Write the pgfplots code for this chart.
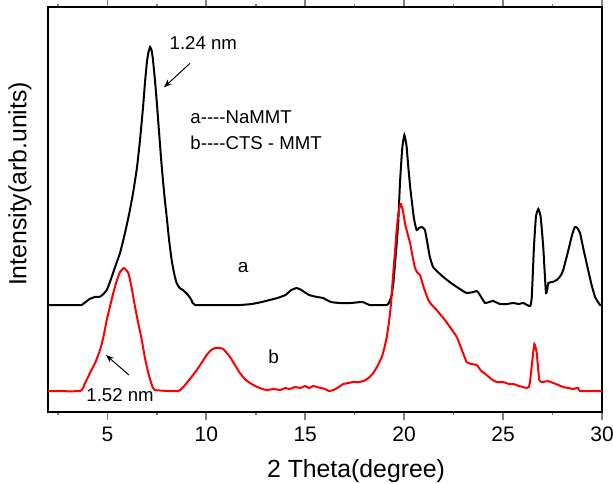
\documentclass[border=0pt]{standalone}
\usepackage{fontspec}
\setmainfont{Liberation Sans}
\usepackage{pgfplots}
\pgfplotsset{compat=1.18}
\usetikzlibrary{arrows.meta}
\begin{document}
\begin{tikzpicture}
\useasboundingbox (-24pt,-35.5pt) rectangle (282.5pt,206pt);
\begin{axis}[
  at={(0,0)}, anchor=south west,
  scale only axis, width=277pt, height=202.5pt,
  xmin=2, xmax=30, ymin=-8, ymax=397,
  xtick={5,10,...,30}, minor xtick={2.5,7.5,...,27.5},
  ytick=\empty, minor ytick={-8,12.25,...,397},
  tick align=outside,
  major tick length=3.8pt, minor tick length=1.7pt,
  x tick style={line width=0.8pt},
  y tick style={line width=0.5pt},
  axis line style={line width=1pt},
  tick label style={font=\fontsize{10.5}{12}\selectfont},
  /pgf/number format/assume math mode=true,
  xlabel={2 Theta(degree)}, ylabel={Intensity(arb.units)},
  label style={font=\fontsize{12.4}{14}\selectfont},
  xlabel style={at={(axis description cs:0.556,0)}, anchor=base, yshift=-32.7pt},
  ylabel style={at={(axis description cs:-0.0505,0.563)}, anchor=center},
  clip=false,
]
\addplot[black, line width=1pt, smooth, tension=0.3] coordinates {
(2.0,99) (3.5,99) (3.70,99) (3.9,102) (4.1,105) (4.38,107) (4.63,107.3) (4.8,110) (4.97,114)
(5.13,122) (5.39,137) (5.64,151) (5.89,171) (6.10,190) (6.30,211) (6.50,237) (6.65,264) (6.80,296) (6.90,321) (7.00,342) (7.07,351)
(7.16,357) (7.23,354) (7.29,347) (7.39,327) (7.49,304) (7.62,270) (7.75,237) (7.88,209) (8.00,187) (8.12,164) (8.25,144) (8.38,130) (8.50,121) (8.65,116) (8.82,114)
(9.08,109) (9.25,104) (9.43,99) (11.0,99) (11.7,99) (12.3,100) (12.8,102) (13.2,104) (13.6,106) (14.0,109)
(14.3,114) (14.57,116) (14.8,114) (15.2,109) (15.6,107) (15.9,106) (16.3,102) (16.76,101)
(17.3,101) (17.9,102) (18.27,99) (19.12,99) (19.25,102) (19.37,109) (19.46,122) (19.54,141) (19.62,160) (19.7,181) (19.79,221)
(19.9,255) (20.01,269) (20.12,258) (20.21,237) (20.3,218) (20.38,204) (20.5,185) (20.63,174) (20.75,176) (20.89,177) (21.05,174)
(21.2,158) (21.3,147) (21.46,137) (21.7,132) (21.98,127) (22.3,122) (22.66,117) (22.9,114) (23.16,111) (23.5,112) (23.67,113) (23.8,110) (23.92,106)
(24.09,101) (24.3,102) (24.5,103) (24.84,100) (25.2,100) (25.5,101) (25.8,100) (26.02,101) (26.36,98) (26.45,107) (26.56,157)
(26.66,187) (26.78,195) (26.9,187) (27.03,157) (27.17,111) (27.29,121) (27.5,122) (27.71,124) (27.9,128) (28.04,134)
(28.3,154) (28.5,170) (28.63,177) (28.75,176) (28.89,171) (29.05,156) (29.22,141) (29.45,121) (29.65,107) (29.9,99) (30,99)
};
\addplot[red, line width=1pt, smooth, tension=0.3] coordinates {
(2,13) (3.62,13) (3.85,20) (4.12,31) (4.4,42) (4.63,54) (4.8,67) (4.97,84) (5.15,99) (5.3,111) (5.47,123) (5.64,132) (5.84,136) (6.06,131)
(6.22,117) (6.4,97) (6.57,80) (6.74,64) (6.9,46) (7.07,31) (7.25,19) (7.41,14) (8.59,13) (9.01,21) (9.52,34) (10.02,49) (10.25,54) (10.44,56)
(10.65,56) (10.86,55) (11.2,47) (11.45,39) (11.7,31) (12.0,24) (12.38,19) (12.7,16) (13.05,14) (13.4,15) (13.73,14) (14.0,16) (14.2,15) (14.5,17) (14.74,16) (15.0,18) (15.2,16)
(15.4,18) (15.58,17) (15.8,16) (16.0,15) (16.2,13) (16.42,14) (16.7,17) (16.92,20) (17.2,21) (17.4,22) (17.7,22) (17.94,23) (18.2,26) (18.44,31) (18.65,38) (18.87,47) (19.0,56) (19.12,67)
(19.22,80) (19.32,97) (19.4,118) (19.49,141) (19.56,158) (19.62,174) (19.7,189) (19.79,199) (19.84,200) (19.94,193) (20.04,181) (20.15,172) (20.3,161) (20.42,148) (20.55,136)
(20.68,131) (20.8,129) (21.0,116) (21.22,104) (21.4,99) (21.64,94) (21.85,89) (22.06,84) (22.35,76) (22.66,67) (22.9,55) (23.16,42) (23.4,40) (23.67,39) (23.9,33) (24.17,29)
(24.4,25) (24.68,22) (25.0,22) (25.3,20) (25.52,20) (25.8,18) (26.0,17) (26.19,16) (26.3,17) (26.36,22) (26.48,44) (26.58,60) (26.7,51) (26.83,24)
(27.03,22) (27.25,23) (27.54,21) (27.8,19) (28.04,17) (28.3,16) (28.55,15) (28.7,16) (28.8,16) (28.89,13) (30,13)
};
\node[inner sep=0pt, font=\fontsize{9.3}{11}\selectfont] at (axis cs:9.85,361) {1.24 nm};
\draw[-{Stealth[length=4pt,width=3pt]}, line width=0.5pt] (axis cs:9.18,340.7) -- (axis cs:7.86,316.7);
\node[anchor=west, inner sep=0pt, font=\fontsize{9.3}{11}\selectfont] at (axis cs:9.18,286.5) {a-{}-{}-{}-NaMMT};
\node[anchor=west, inner sep=0pt, font=\fontsize{9.3}{11}\selectfont] at (axis cs:9.18,261.5) {b-{}-{}-{}-CTS - MMT};
\node[inner sep=0pt, font=\fontsize{9.5}{11}\selectfont] at (axis cs:11.86,137) {a};
\node[inner sep=0pt, font=\fontsize{9.5}{11}\selectfont] at (axis cs:13.41,47) {b};
\node[inner sep=0pt, font=\fontsize{9.3}{11}\selectfont] at (axis cs:5.64,9) {1.52 nm};
\draw[-{Stealth[length=4pt,width=3pt]}, line width=0.5pt] (axis cs:6.09,29) -- (axis cs:4.93,49);
\end{axis}
\end{tikzpicture}
\end{document}
